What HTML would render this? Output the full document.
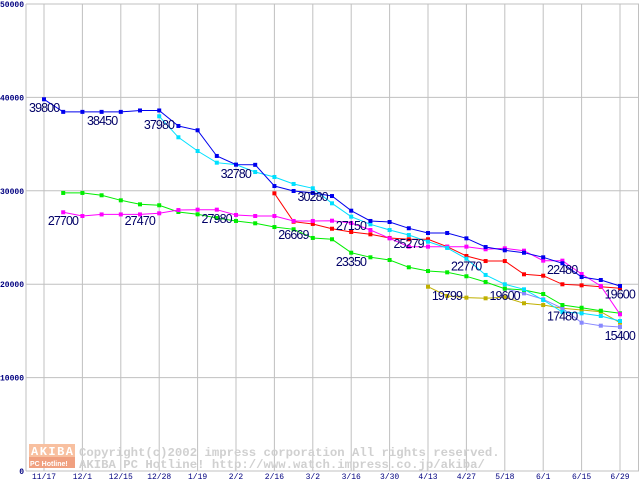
<!DOCTYPE html>
<html><head><meta charset="utf-8"><style>
html,body{margin:0;padding:0;background:#fff;}
svg{display:block;}
</style></head><body>
<svg id="chart" width="640" height="480" xmlns="http://www.w3.org/2000/svg">
<g id="grid"></g>
<g id="axes"></g>
<g id="wm">
  <rect x="29" y="444" width="46" height="13" fill="#f8c0a0"/>
  <rect x="29" y="457" width="46" height="11" fill="#f0a080"/>
  <text x="31" y="455" font-family="Liberation Mono, monospace" font-size="12" font-weight="bold" fill="#fff" letter-spacing="1.5">AKIBA</text>
  <text x="30" y="466" font-family="Liberation Sans, sans-serif" font-size="7" font-weight="bold" fill="#fff">PC Hotline!</text>
  <text x="79" y="456" font-family="Liberation Mono, monospace" font-size="12.3" font-weight="bold" fill="#d0d0d0">Copyright(c)2002 impress corporation All rights reserved.</text>
  <text x="79" y="468" font-family="Liberation Mono, monospace" font-size="12.3" font-weight="bold" fill="#d0d0d0">AKIBA PC Hotline!  http://www.watch.impress.co.jp/akiba/</text>
</g>
<g id="series"></g>
<g id="labels"></g>
</svg>
<script>
const categories = ["11/17","12/1","12/15","12/28","1/19","2/2","2/16","3/2","3/16","3/30","4/13","4/27","5/18","6/1","6/15","6/29"];
const yTicks = [0,10000,20000,30000,40000,50000];
const N = null;
const blueVals = [39800,38450,38450,38450,38450,38600,38600,36940,36480,33730,32800,32780,30510,29980,29770,29440,27870,26770,26660,25990,25480,25480,24910,23980,23630,23370,22880,22240,20770,20450,19810];
const cyanVals = [N,N,N,N,N,N,37980,35730,34260,33010,32800,32010,31480,30730,30270,28660,27230,26410,25800,25270,24550,23880,22730,20990,19990,19450,18310,17020,16880,16600,16060];
const greenVals = [N,29770,29770,29520,28980,28550,28450,27730,27480,27090,26770,26520,26120,25880,24950,24810,23370,22880,22590,21810,21410,21270,20850,20240,19520,19380,18950,17770,17480,17160,16880];
const magentaVals = [N,27700,27300,27470,27470,27470,27590,27940,27980,27980,27410,27300,27300,26770,26770,26800,26550,25800,24910,24020,24020,24020,24020,23740,23840,23590,22520,22520,21090,19810,16780];
const redVals = [N,N,N,N,N,N,N,N,N,N,N,N,29730,26690,26450,25940,25590,25340,24950,24810,24810,24020,23020,22480,22480,21060,20910,19990,19880,19730,19560];
const oliveVals = [N,N,N,N,N,N,N,N,N,N,N,N,N,N,N,N,N,N,N,N,19730,18740,18560,18490,18600,17960,17770,17420,17240,17060,15880];
const lavenderVals = [N,N,N,N,N,N,N,N,N,N,N,N,N,N,N,N,N,N,N,N,N,N,N,N,19520,19020,18380,17420,15880,15560,15420];
const labelTexts = ["39800","38450","37980","32780","30280","27700","27470","27980","26669","27150","25279","23350","22770","22480","19799","19600","19600","17480","15400"];
const labelIdx = [-0.78,2.24,5.2,9.2,13.2,0.2,4.2,8.2,12.2,15.2,18.2,15.2,21.2,26.2,20.2,23.2,29.2,26.2,29.2];
const labelVals = [38440,37040,36620,31370,28910,26340,26340,26550,24840,25800,23880,21950,21450,21090,18310,18310,18470,16090,14030];

const NS="http://www.w3.org/2000/svg";
const X0=44, DX=19.2, Y0=471, KY=0.00934;
function xs(i){return X0+i*DX;}
function ys(v){return Y0-v*KY;}
function mk(tag,attrs,parent){const e=document.createElementNS(NS,tag);for(const k in attrs)e.setAttribute(k,attrs[k]);parent.appendChild(e);return e;}
const grid=document.getElementById('grid'), axes=document.getElementById('axes'), ser=document.getElementById('series'), lab=document.getElementById('labels');
yTicks.forEach(t=>{
  const l=mk('line',{x1:26,x2:639,y1:ys(t),y2:ys(t),stroke:'#c0c0c0','stroke-width':1},grid);
  
  
  const tx=mk('text',{x:24,y:ys(t)+3,'text-anchor':'end','font-family':'Liberation Mono, monospace','font-size':8,'font-weight':'bold',fill:'#000080'},axes);
  tx.textContent=String(t);
  
  
});
const ya=mk('line',{x1:26,x2:26,y1:ys(50000),y2:ys(0),stroke:'#c0c0c0'},grid);


const rb=mk('line',{x1:638.5,x2:638.5,y1:ys(50000),y2:ys(0),stroke:'#c0c0c0'},grid);


categories.forEach((c,k)=>{
  const x=xs(k*2);
  const l=mk('line',{x1:x,x2:x,y1:ys(50000),y2:ys(0),stroke:'#c0c0c0'},grid);
  
  
  const tx=mk('text',{x:x,y:479,'text-anchor':'middle','font-family':'Liberation Mono, monospace','font-size':8,fill:'#000080'},axes);
  tx.textContent=c;
  
  
});
function drawSeries(vals,color,name){
  const g=mk('g',{},ser);
  
  
  let pts=[];
  vals.forEach((v,i)=>{if(v!==null)pts.push(xs(i).toFixed(1)+','+ys(v).toFixed(1));});
  const pl=mk('polyline',{points:pts.join(' '),fill:'none',stroke:color,'stroke-width':1},g);
  
  
  vals.forEach((v,i)=>{if(v===null)return;
    const r=mk('rect',{x:xs(i)-2,y:ys(v)-2,width:4,height:4,fill:color},g);
    
    
  });
}
drawSeries(oliveVals,'#c0b000','series-olive');
drawSeries(lavenderVals,'#8888ff','series-lavender');
drawSeries(greenVals,'#00ee00','series-green');
drawSeries(redVals,'#ff0000','series-red');
drawSeries(magentaVals,'#ff00ff','series-magenta');
drawSeries(cyanVals,'#00e0ff','series-cyan');
drawSeries(blueVals,'#0000ee','series-blue');
labelTexts.forEach((t,k)=>{
  const tx=mk('text',{x:xs(labelIdx[k]),y:ys(labelVals[k]),'text-anchor':'start','font-family':'Liberation Sans, sans-serif','font-size':12.5,'letter-spacing':'-0.9',fill:'#000066'},lab);
  tx.textContent=t;
  
  
});
</script>
</body></html>
